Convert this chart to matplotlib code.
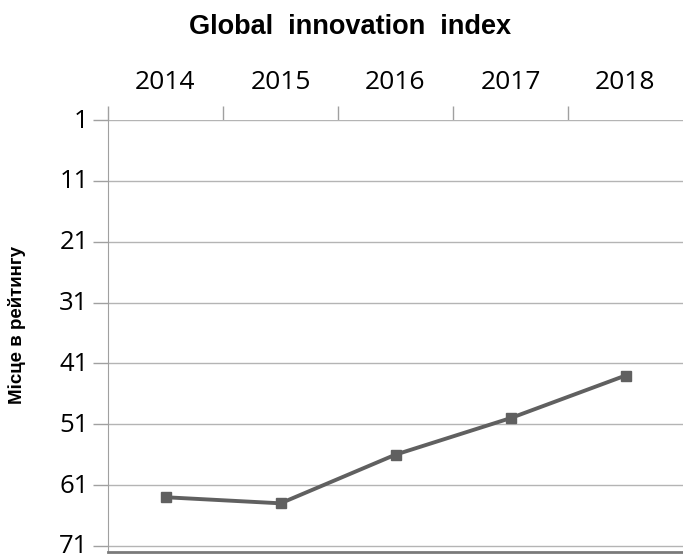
import matplotlib.pyplot as plt
from matplotlib.transforms import ScaledTranslation

years = ['2014', '2015', '2016', '2017', '2018']
rank = [63, 64, 56, 50, 43]
yticks = [1, 11, 21, 31, 41, 51, 61, 71]

fig = plt.figure(figsize=(6.83, 5.57), dpi=100)
ax = fig.add_axes([108/683, 5/557, 575/683, 432/557])

x = list(range(len(years)))
ax.plot(x, rank, color='#606060', lw=2.8, marker='s', ms=7, zorder=3)

ax.set_xlim(-0.5, len(years) - 0.5)
ax.set_ylim(72, 1)

ax.set_yticks(yticks)
ax.set_yticklabels([str(t) for t in yticks], fontfamily='Open Sans', fontsize=18.5)
ax.yaxis.grid(True, color='#b4b4b4', lw=1)
ax.tick_params(axis='y', direction='out', length=11, width=1, color='#a0a0a0', pad=3)
# nudge y labels up a little so the bottom one stays inside the figure
for lab in ax.get_yticklabels():
    lab.set_transform(lab.get_transform() + ScaledTranslation(0, 2/100, fig.dpi_scale_trans))

# category labels on top, ticks between categories
ax.xaxis.tick_top()
ax.set_xticks(x)
ax.set_xticklabels(years, fontfamily='Open Sans', fontsize=19)
ax.set_xticks([i + 0.5 for i in range(-1, len(years) - 1)], minor=True)
ax.tick_params(axis='x', which='major', length=0, pad=18)
ax.tick_params(axis='x', which='minor', direction='out', length=10, width=1, color='#a0a0a0')

for s in ['top', 'right']:
    ax.spines[s].set_visible(False)
ax.spines['left'].set_color('#a0a0a0')
ax.spines['bottom'].set_color('#7a7a7a')
ax.spines['bottom'].set_linewidth(2)

fig.text(350/683, 1 - 27/557, 'Global  innovation  index', ha='center', va='center',
         fontfamily='Liberation Sans', fontweight='bold', fontsize=19.5)
fig.text(17/683, 1 - 325/557, 'Місце в рейтингу', ha='center', va='center', rotation=90,
         fontfamily='Liberation Sans', fontweight='bold', fontsize=13.5)

fig.savefig('out.png', dpi=100)
